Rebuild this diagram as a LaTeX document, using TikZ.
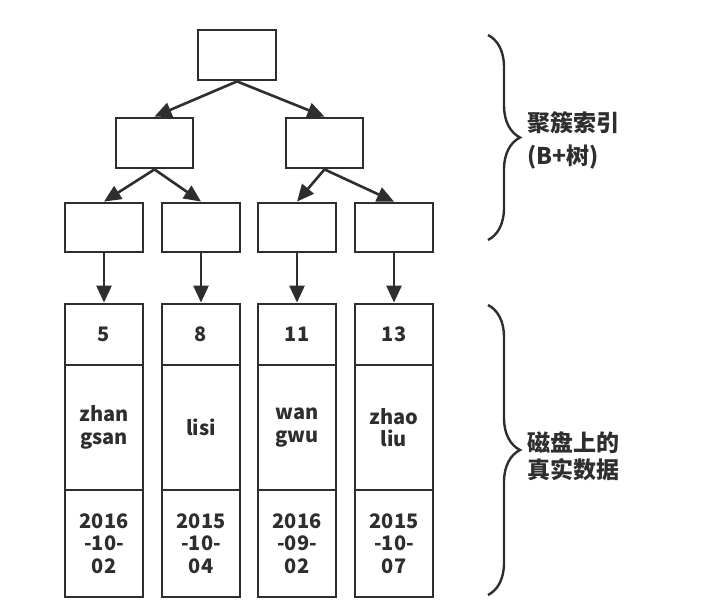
\documentclass[tikz,border=0pt]{standalone}
\usepackage{fontspec}
\setmainfont{Noto Sans CJK SC}
\usetikzlibrary{arrows.meta,decorations.pathreplacing}
\definecolor{ink}{HTML}{2E2E2E}
\tikzset{
  box/.style={draw=ink, line width=2.8pt, minimum width=78pt, inner sep=0pt, fill=white},
  arr/.style={draw=ink, line width=2.6pt, -{Triangle[length=17pt,width=15pt]}},
  cell/.style={box, text=ink, align=center, font=\bfseries\fontsize{20}{22.5}\selectfont},
  brc/.style={draw=ink, line width=2.4pt, decorate, decoration={brace, amplitude=32pt}},
  lbl/.style={anchor=west, align=left, text=ink, inner sep=0pt, font=\bfseries\fontsize{23}{33}\selectfont}
}
\begin{document}
\begin{tikzpicture}[x=1pt,y=-1pt]
\useasboundingbox (0,0) rectangle (728,610);
\fill[white] (0,0) rectangle (728,610);
% tree
\node[box, minimum height=50pt] (root) at (237,55) {};
\node[box, minimum height=50pt, minimum width=77pt] (la) at (154.5,143) {};
\node[box, minimum height=50pt, minimum width=77pt] (lb) at (324.5,143) {};
\node[box, minimum height=49pt] (c1) at (104,227.5) {};
\node[box, minimum height=49pt] (c2) at (201,227.5) {};
\node[box, minimum height=49pt] (c3) at (297,227.5) {};
\node[box, minimum height=49pt] (c4) at (394,227.5) {};
% data columns
\node[cell, minimum height=61pt] (k1) at (104,334.5) {5};
\node[cell, minimum height=61pt] (k2) at (201,334.5) {8};
\node[cell, minimum height=61pt] (k3) at (297,334.5) {11};
\node[cell, minimum height=61pt] (k4) at (394,334.5) {13};
\node[cell, minimum height=125pt] (n1) at (104,427.5) {zhan\\gsan};
\node[cell, minimum height=125pt] (n2) at (201,427.5) {lisi};
\node[cell, minimum height=125pt] (n3) at (297,427.5) {wan\\gwu};
\node[cell, minimum height=125pt] (n4) at (394,427.5) {zhao\\liu};
\node[cell, minimum height=107pt] (d1) at (104,543.5) {2016\\-10-\\02};
\node[cell, minimum height=107pt] (d2) at (201,543.5) {2015\\-10-\\04};
\node[cell, minimum height=107pt] (d3) at (297,543.5) {2016\\-09-\\02};
\node[cell, minimum height=107pt] (d4) at (394,543.5) {2015\\-10-\\07};
% arrows
\draw[arr] (root.south) -- (la.north);
\draw[arr] (root.south) -- (lb.north);
\draw[arr] (la.south) -- (c1.north);
\draw[arr] (la.south) -- (c2.north);
\draw[arr] (lb.south) -- (c3.north);
\draw[arr] (lb.south) -- (c4.north);
\draw[arr] (c1.south) -- (k1.north);
\draw[arr] (c2.south) -- (k2.north);
\draw[arr] (c3.south) -- (k3.north);
\draw[arr] (c4.south) -- (k4.north);
% braces
\coordinate (b1t) at (488,35);
\coordinate (b1b) at (488,240);
\coordinate (b2t) at (488,305);
\coordinate (b2b) at (488,595);
\draw[brc] (b1t) -- (b1b);
\draw[brc] (b2t) -- (b2b);
\node[lbl] (t1) at (527,140) {聚簇索引\\(B+树)};
\node[lbl, font=\bfseries\fontsize{23}{27}\selectfont] (t2) at (527,456) {磁盘上的\\真实数据};
\end{tikzpicture}
\end{document}
